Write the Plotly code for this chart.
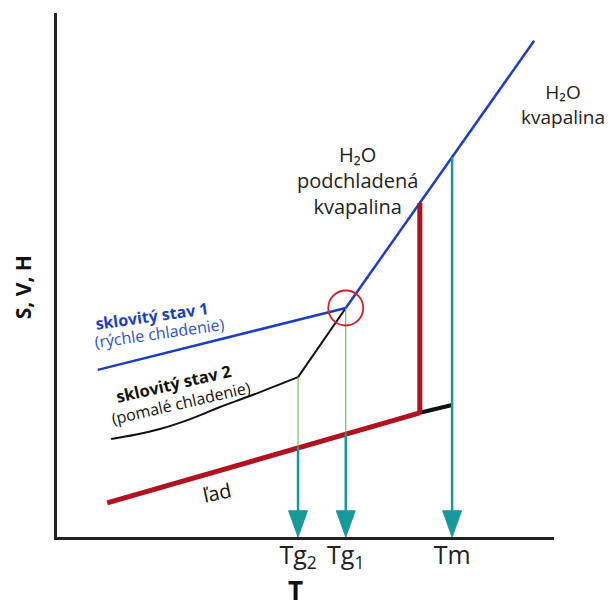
import numpy as np
import plotly.graph_objects as go

# ---- data (schematic units: T 0..100, S/V/H 0..100) ----
T_liquid = [58.1, 96.0]
H_liquid = [43.7, 94.7]

T_glass1 = [8.2, 58.1]
H_glass1 = [31.9, 43.7]

T_glass2_curve = [10.9, 15.7, 20.7, 26.8, 32.8, 38.8, 48.5]
H_glass2_curve = [18.7, 19.5, 20.6, 22.5, 24.8, 26.9, 30.5]
T_glass2_line = [48.5, 58.1]
H_glass2_line = [30.5, 43.7]

T_ice = [10.1, 73.0]
H_ice = [6.5, 23.7]

T_ice_ext = [73.0, 79.5]
H_ice_ext = [23.7, 25.2]

Tg2, Tg1, Tm = 48.5, 58.1, 79.5
tick_vals = [Tg2, Tg1, Tm]
tick_text = ["Tg<sub>2</sub>", "Tg<sub>1</sub>", "Tm"]

# ---- styles ----
BLUE = "#1d3fbf"
RED = "#b0121f"
TEAL = "#16999a"
GREEN = "#5fc04e"
CIRCLE = "#d4202c"
FONT = "Open Sans"

fig = go.Figure()

def line(x, y, color, width, shape="linear"):
    fig.add_trace(go.Scatter(x=x, y=y, mode="lines",
                             line=dict(color=color, width=width, shape=shape),
                             hoverinfo="skip", showlegend=False))

def h_on(Tx, Hx, t):
    return float(np.interp(t, Tx, Hx))

# main curves
line(T_ice, H_ice, RED, 5)
line(T_ice_ext, H_ice_ext, "#111111", 4)
line(T_glass2_curve, H_glass2_curve, "#111111", 2, "spline")
line(T_glass2_line, H_glass2_line, "#111111", 2)
line(T_glass1, H_glass1, BLUE, 2.5)
line(T_liquid, H_liquid, BLUE, 2.5)

# melting jump (ice -> liquid)
t_jump = T_ice[-1]
line([t_jump, t_jump], [H_ice[-1], h_on(T_liquid, H_liquid, t_jump)], RED, 5)

# arrows
head_w, head_h = 3.8, 5.0
arrows = [
    (Tg2, H_glass2_line[0], True),
    (Tg1, h_on(T_glass1, H_glass1, Tg1), True),
    (Tm, h_on(T_liquid, H_liquid, Tm), False),
]
for t, top, green_part in arrows:
    h_ice = h_on(T_ice, H_ice, t)
    if green_part:
        line([t, t], [top, h_ice], GREEN, 1.1)
        line([t, t], [h_ice, head_h], TEAL, 2.5)
    else:
        line([t, t], [top, head_h], TEAL, 2.5)
    fig.add_trace(go.Scatter(x=[t - head_w / 2, t + head_w / 2, t, t - head_w / 2],
                             y=[head_h, head_h, 0, head_h], mode="lines", fill="toself",
                             fillcolor=TEAL, line=dict(color=TEAL, width=1),
                             hoverinfo="skip", showlegend=False))

# circle around the glass transition point
rx, ry = 3.52, 3.34
cy = h_on(T_glass1, H_glass1, Tg1)
fig.add_shape(type="circle", xref="x", yref="y", x0=Tg1 - rx, x1=Tg1 + rx,
              y0=cy - ry, y1=cy + ry, line=dict(color=CIRCLE, width=1.8))

def ann(x, y, text, size, color="#222222", angle=0, bold=False, pad=1):
    # x, y given in axis units (0..100); placed in paper coords so text outside the axes shows
    if bold:
        text = "<b>" + text + "</b>"
    fig.add_annotation(x=x / 100, y=y / 100, xref="paper", yref="paper", text=text,
                       showarrow=False, textangle=angle, borderpad=pad,
                       font=dict(family=FONT, size=size, color=color),
                       xanchor="center", yanchor="middle", align="center")

ann(19.1, 42.2, "sklovitý stav 1", 16, BLUE, -8, True)
ann(20.7, 39.0, "(rýchle chladenie)", 16, "#2b52c9", -8)
ann(23.4, 29.2, "sklovitý stav 2", 16.5, "#111111", -13, True)
ann(24.9, 25.6, "(pomalé chladenie)", 16, "#111111", -13)
ann(32.2, 8.4, "ľad", 20, "#111111", -12)
ann(60.4, 68.0, "H₂O<br>podchladená<br>kvapalina", 20)
ann(101.8, 82.6, "H₂O<br>kvapalina", 19)
ann(47.9, -10.1, "T", 26, "#111111", 0, True, 0)
ann(-6.8, 47.7, "S, V, H", 21, "#111111", -90, True)

fig.update_layout(
    width=610, height=607, autosize=False,
    margin=dict(l=57, r=56, t=13, b=70),
    paper_bgcolor="white", plot_bgcolor="white",
    font=dict(family=FONT, color="#222222"),
    xaxis=dict(range=[0, 100], showgrid=False, zeroline=False, showline=True,
               linecolor="#222222", linewidth=2.5, tickvals=tick_vals, ticktext=tick_text,
               ticks="", ticklabelstandoff=-6,
               tickfont=dict(family=FONT, size=25, color="#222222"),
               fixedrange=True),
    yaxis=dict(range=[0, 100], showgrid=False, zeroline=False, showline=True,
               linecolor="#222222", linewidth=2.5, showticklabels=False, ticks="",
               fixedrange=True),
    showlegend=False,
)

fig.write_html("out.html", config={"displayModeBar": False})
